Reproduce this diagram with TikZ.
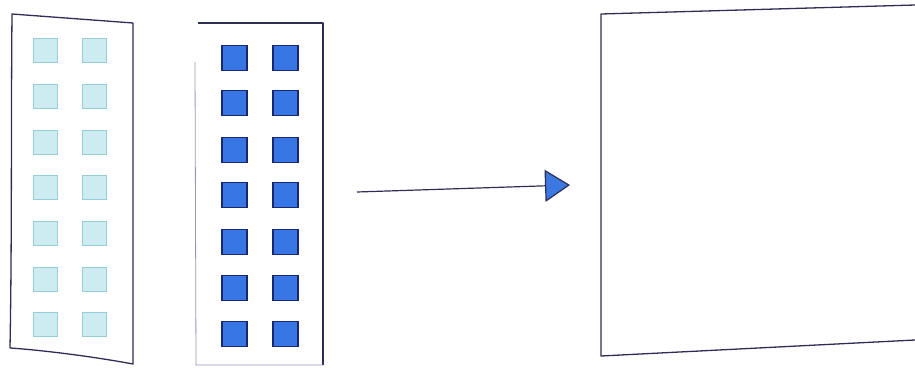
\documentclass[tikz,border=0pt]{standalone}
\usetikzlibrary{arrows.meta}
\definecolor{ink}{RGB}{45,45,85}
\definecolor{faint}{RGB}{150,150,185}
\definecolor{lightfill}{RGB}{205,236,242}
\definecolor{lightedge}{RGB}{150,205,215}
\definecolor{bluefill}{RGB}{55,118,228}
\definecolor{blueedge}{RGB}{25,40,110}
\definecolor{arrowblue}{RGB}{60,120,225}
\tikzset{
  panel/.style={draw=ink, line width=1.3pt, line join=round},
  lightsq/.style={draw=lightedge, fill=lightfill, line width=0.8pt, minimum size=24pt, inner sep=0pt},
  bluesq/.style={draw=blueedge, fill=bluefill, line width=1.2pt, minimum size=25pt, inner sep=0pt},
  conn/.style={draw=ink, line width=1.2pt, -{Triangle[length=25pt,width=32pt,fill=arrowblue]}}
}
\begin{document}
\begin{tikzpicture}[x=1pt,y=-1pt]
\useasboundingbox (0,0) rectangle (915,367);
% left panel (light squares)
\draw[panel] (12,14) -- (133,23) -- (133,364) .. controls (90,356) and (40,350) .. (10,348) .. controls (12,240) and (11,120) .. cycle;
\foreach \r/\y in {1/50,2/96,3/142,4/187,5/233,6/279,7/324} {
  \node[lightsq] (l\r a) at (45,\y) {};
  \node[lightsq] (l\r b) at (94,\y) {};
}
% middle panel (blue squares)
\draw[panel] (198,23) -- (323,23) -- (323,365);
\draw[draw=faint, line width=0.8pt] (195,62) -- (196,365) -- (323,365);
\foreach \r/\y in {1/58,2/103,3/150,4/195,5/242,6/288,7/334} {
  \node[bluesq] (b\r a) at (234.5,\y) {};
  \node[bluesq] (b\r b) at (285.5,\y) {};
}
% arrow
\coordinate (arrstart) at (357,192);
\coordinate (arrend) at (570,185);
\draw[conn] (arrstart) -- (arrend);
% right box
\draw[panel] (915,5) -- (601,14) -- (601,356) -- (915,340);
\end{tikzpicture}
\end{document}
